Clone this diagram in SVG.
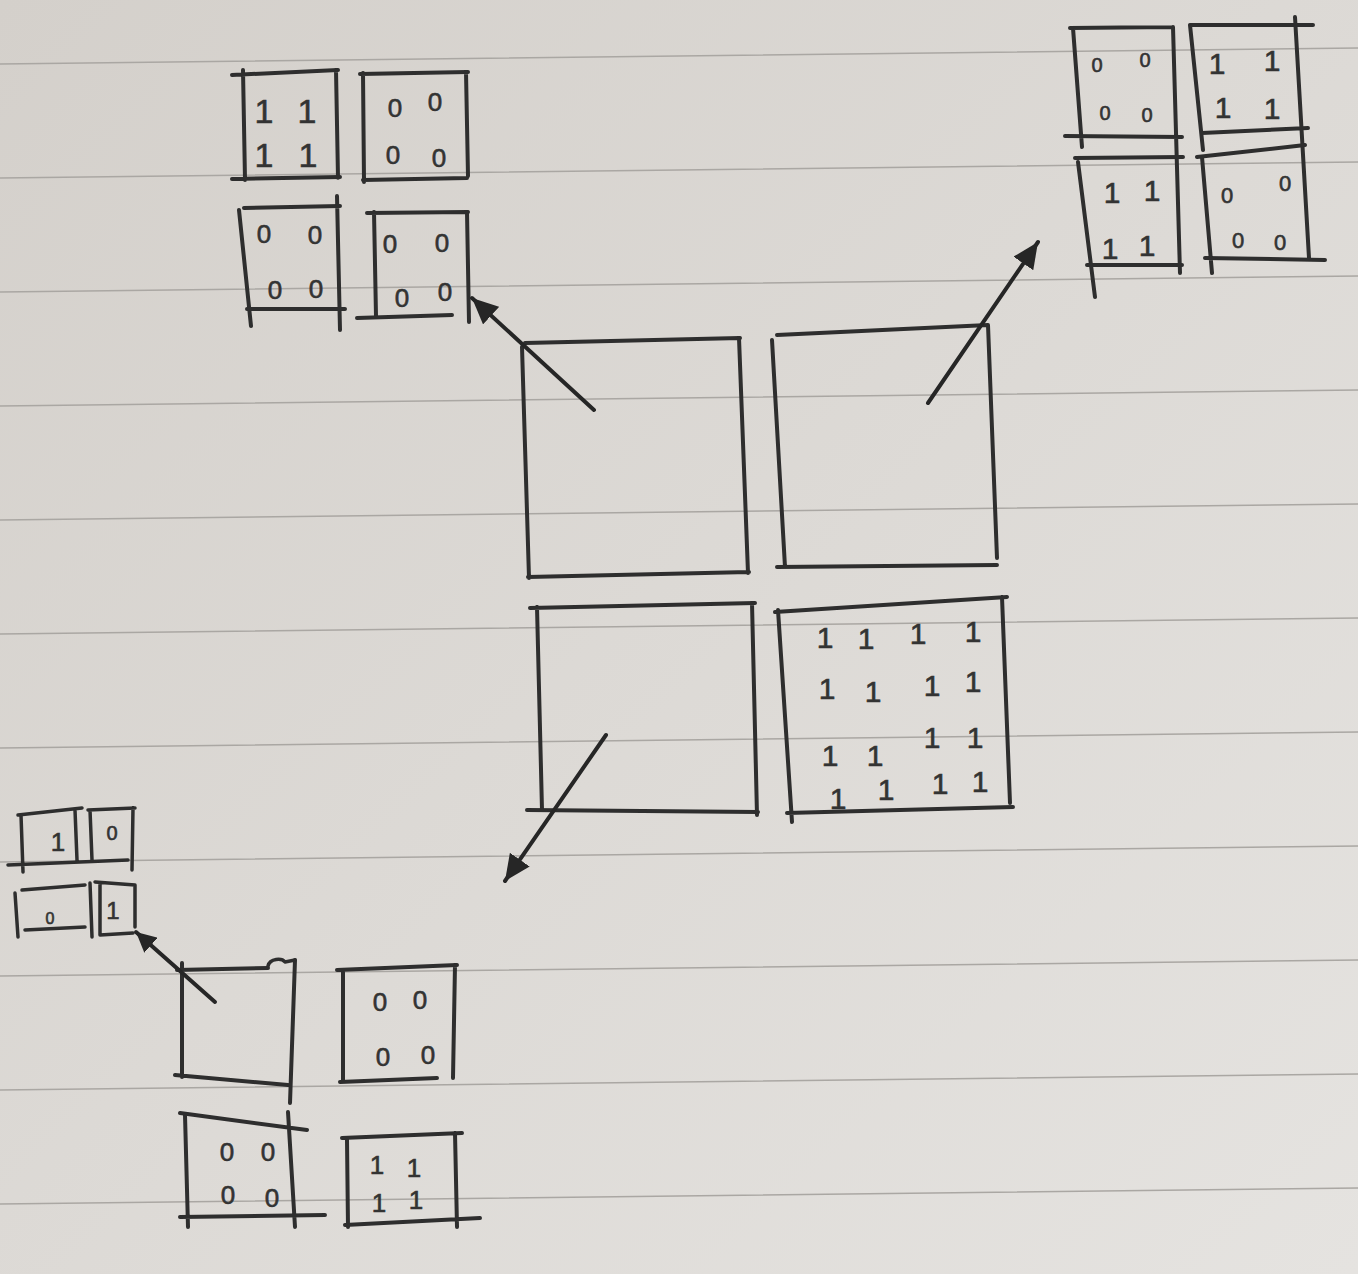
<svg xmlns="http://www.w3.org/2000/svg" width="1358" height="1274" viewBox="0 0 1358 1274">
<defs>
<linearGradient id="paper" x1="0" y1="0" x2="1" y2="1">
<stop offset="0" stop-color="#d4d0cb"/>
<stop offset="1" stop-color="#e5e3e0"/>
</linearGradient>
<marker id="head" markerUnits="userSpaceOnUse" markerWidth="28" markerHeight="24" refX="26" refY="12" orient="auto">
<path d="M0,0 L26,12 L0,24 z" fill="#262626"/>
</marker>
<marker id="headS" markerUnits="userSpaceOnUse" markerWidth="22" markerHeight="20" refX="20" refY="10" orient="auto">
<path d="M0,0 L20,10 L0,20 z" fill="#262626"/>
</marker>
</defs>
<style>
.rule{stroke:#aaa7a3;stroke-width:1.4;fill:none}
.box{fill:none;stroke:#2e2e2e;stroke-width:4;stroke-linecap:round;stroke-linejoin:round}
.thin{stroke-width:3.5}
.d{font-family:"Liberation Sans",Arial,sans-serif;fill:#333;stroke:#333;stroke-width:0.6;text-anchor:middle}
.arrow{fill:none;stroke:#262626;stroke-width:4;stroke-linecap:round}
</style>
<rect width="1358" height="1274" fill="url(#paper)"/>
<g id="ruled-lines">
<path class="rule" d="M0,64 L1358,48 M0,178 L1358,162 M0,292 L1358,276 M0,406 L1358,390 M0,520 L1358,504 M0,634 L1358,618 M0,748 L1358,732 M0,862 L1358,846 M0,976 L1358,960 M0,1090 L1358,1074 M0,1204 L1358,1188"/>
</g>

<!-- Central 2x2 -->
<g id="center-tl">
<path class="box" d="M525,343 L740,338 M522,347 L529,578 M739,338 L748,573 M528,577 L749,572"/>
</g>
<g id="center-tr">
<path class="box" d="M777,335 L988,325 M772,340 L785,567 M988,325 L997,558 M777,567 L997,565"/>
</g>
<g id="center-bl">
<path class="box" d="M530,608 L755,603 M537,607 L542,810 M752,603 L757,815 M527,810 L758,812"/>
</g>
<g id="center-br">
<path class="box" d="M775,612 L1007,597 M778,610 L792,822 M1002,597 L1010,803 M787,813 L1013,807"/>
<g font-size="30">
<text class="d" x="825" y="648">1</text><text class="d" x="866" y="649">1</text><text class="d" x="918" y="644">1</text><text class="d" x="973" y="642">1</text>
<text class="d" x="827" y="699">1</text><text class="d" x="873" y="702">1</text><text class="d" x="932" y="696">1</text><text class="d" x="973" y="692">1</text>
<text class="d" x="830" y="766">1</text><text class="d" x="875" y="766">1</text><text class="d" x="932" y="748">1</text><text class="d" x="975" y="748">1</text>
<text class="d" x="838" y="809">1</text><text class="d" x="886" y="800">1</text><text class="d" x="940" y="794">1</text><text class="d" x="980" y="792">1</text>
</g>
</g>

<!-- Top-left group -->
<g id="tl-a">
<path class="box" d="M232,75 L338,70 M243,70 L245,180 M336,70 L338,178 M232,179 L340,177"/>
<g font-size="34"><text class="d" x="264" y="123">1</text><text class="d" x="307" y="123">1</text><text class="d" x="264" y="167">1</text><text class="d" x="308" y="167">1</text></g>
</g>
<g id="tl-b">
<path class="box" d="M360,74 L468,72 M363,73 L364,182 M466,72 L468,176 M363,180 L467,178"/>
<g font-size="26"><text class="d" x="395" y="117">0</text><text class="d" x="435" y="111">0</text><text class="d" x="393" y="164">0</text><text class="d" x="439" y="167">0</text></g>
</g>
<g id="tl-c">
<path class="box" d="M244,208 L340,206 M239,210 L251,326 M337,196 L340,330 M247,309 L345,309"/>
<g font-size="26"><text class="d" x="264" y="243">0</text><text class="d" x="315" y="244">0</text><text class="d" x="275" y="299">0</text><text class="d" x="316" y="298">0</text></g>
</g>
<g id="tl-d">
<path class="box" d="M367,213 L468,212 M374,212 L376,316 M467,212 L469,322 M357,318 L452,315"/>
<g font-size="26"><text class="d" x="390" y="253">0</text><text class="d" x="442" y="252">0</text><text class="d" x="402" y="307">0</text><text class="d" x="445" y="301">0</text></g>
</g>

<!-- Top-right group -->
<g id="tr-a">
<path class="box" d="M1070,28 L1173,27 M1073,28 L1082,147 M1173,27 L1180,273 M1065,136 L1182,137"/>
<g font-size="20"><text class="d" x="1097" y="72">0</text><text class="d" x="1145" y="67">0</text><text class="d" x="1105" y="120">0</text><text class="d" x="1147" y="122">0</text></g>
</g>
<g id="tr-b">
<path class="box" d="M1190,25 L1313,25 M1190,25 L1203,150 M1295,17 L1309,258 M1202,133 L1308,128"/>
<g font-size="30"><text class="d" x="1217" y="74">1</text><text class="d" x="1272" y="71">1</text><text class="d" x="1223" y="118">1</text><text class="d" x="1272" y="119">1</text></g>
</g>
<g id="tr-c">
<path class="box" d="M1075,158 L1183,157 M1078,162 L1095,297 M1087,265 L1182,265"/>
<g font-size="30"><text class="d" x="1112" y="203">1</text><text class="d" x="1152" y="201">1</text><text class="d" x="1110" y="259">1</text><text class="d" x="1147" y="256">1</text></g>
</g>
<g id="tr-d">
<path class="box" d="M1197,157 L1305,145 M1202,157 L1212,273 M1205,258 L1325,260"/>
<g font-size="22"><text class="d" x="1227" y="203">0</text><text class="d" x="1285" y="191">0</text><text class="d" x="1238" y="248">0</text><text class="d" x="1280" y="250">0</text></g>
</g>

<!-- Bottom-left group -->
<g id="bl-a">
<path class="box" d="M177,970 L268,968 M182,963 L182,1077 M295,960 L290,1103 M175,1075 L288,1085"/>
<path class="box thin" d="M268,966 C270,958 282,958 285,962 L295,960"/>
</g>
<g id="bl-b">
<path class="box" d="M337,970 L457,965 M343,970 L343,1082 M455,965 L453,1078 M340,1082 L437,1078"/>
<g font-size="26"><text class="d" x="380" y="1011">0</text><text class="d" x="420" y="1009">0</text><text class="d" x="383" y="1066">0</text><text class="d" x="428" y="1064">0</text></g>
</g>
<g id="bl-c">
<path class="box" d="M180,1113 L307,1130 M185,1115 L188,1227 M288,1112 L295,1227 M180,1217 L325,1215"/>
<g font-size="26"><text class="d" x="227" y="1161">0</text><text class="d" x="268" y="1161">0</text><text class="d" x="228" y="1204">0</text><text class="d" x="272" y="1207">0</text></g>
</g>
<g id="bl-d">
<path class="box" d="M342,1138 L462,1133 M347,1140 L348,1227 M455,1133 L457,1227 M345,1225 L480,1218"/>
<g font-size="26"><text class="d" x="377" y="1174">1</text><text class="d" x="414" y="1177">1</text><text class="d" x="379" y="1212">1</text><text class="d" x="416" y="1209">1</text></g>
</g>

<!-- Tiny group -->
<g id="tiny-a">
<path class="box thin" d="M18,815 L82,808 M21,815 L23,872 M75,810 L77,860 M8,865 L128,860"/>
<text class="d" x="58" y="851" font-size="26">1</text>
</g>
<g id="tiny-b">
<path class="box thin" d="M88,810 L135,808 M90,810 L92,860 M133,808 L132,870"/>
<text class="d" x="112" y="840" font-size="20">0</text>
</g>
<g id="tiny-c">
<path class="box thin" d="M22,890 L85,885 M15,893 L18,937 M90,883 L92,937 M25,930 L85,927"/>
<text class="d" x="50" y="924" font-size="16">0</text>
</g>
<g id="tiny-d">
<path class="box thin" d="M100,883 L100,935 M95,882 L135,885 M135,885 L135,927 M100,935 L133,933"/>
<text class="d" x="113" y="919" font-size="24">1</text>
</g>

<g id="connectors">
<path class="arrow" d="M594,410 L472,298" marker-end="url(#head)"/>
<path class="arrow" d="M928,403 L1038,242" marker-end="url(#head)"/>
<path class="arrow" d="M606,735 L505,881" marker-end="url(#head)"/>
<path class="arrow" d="M215,1002 L136,932" marker-end="url(#headS)"/>
</g>
</svg>
